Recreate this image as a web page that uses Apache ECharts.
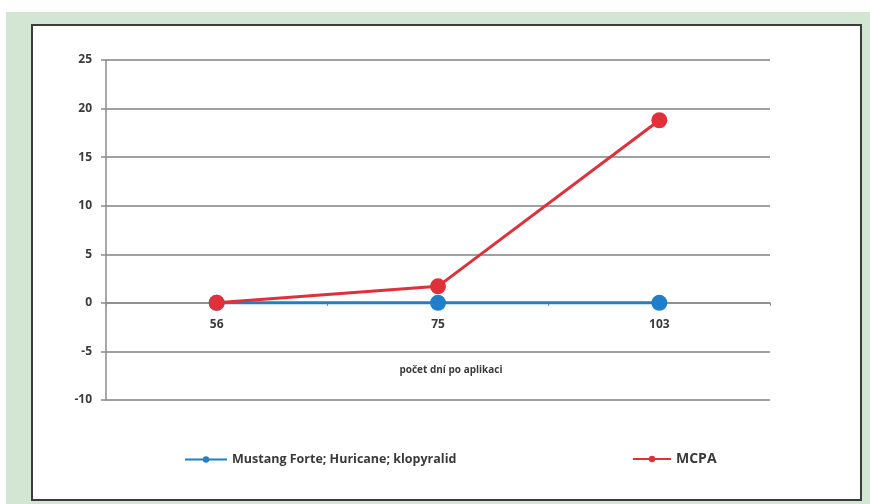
<!DOCTYPE html>
<html>
<head>
<meta charset="utf-8">
<script src="https://cdn.jsdelivr.net/npm/echarts@6/dist/echarts.min.js"></script>
<style>
  html, body { margin: 0; padding: 0; background: #ffffff; }
  #chart { width: 870px; height: 504px; }
</style>
</head>
<body>
<div id="chart"></div>
<script>
// Days after application
const categories = ['56', '75', '103'];
// Series values
const mustangValues = [0, 0, 0];
const mcpaValues = [0, 1.7, 18.8];
const seriesNames = ['Mustang Forte; Huricane; klopyralid', 'MCPA'];
const xAxisTitle = 'počet dní po aplikaci';

const chart = echarts.init(document.getElementById('chart'), null, { renderer: 'canvas' });

const labelFont = { fontFamily: 'Open Sans', fontWeight: 'bold', fontSize: 12, color: '#3a3a3a' };

// The category axis sits on the zero line: shift it up from the bottom of the grid
const gridTop = 60, gridBottom = 104, chartHeight = 504;
const yMin = -10, yMax = 25;
const plotHeight = chartHeight - gridTop - gridBottom;
const zeroOffset = -plotHeight * (0 - yMin) / (yMax - yMin);

chart.setOption({
  animation: false,
  backgroundColor: '#ffffff',
  graphic: [
    { type: 'rect', z: -10, shape: { x: 6, y: 12, width: 864, height: 492 }, style: { fill: '#d2e6d3' } },
    { type: 'rect', z: -9, shape: { x: 32, y: 25, width: 829, height: 475 },
      style: { fill: '#ffffff', stroke: '#3c3c3c', lineWidth: 2 } }
  ],
  grid: { left: 106, right: 100, top: gridTop, bottom: gridBottom, containLabel: false },
  legend: [
    {
      data: [seriesNames[0]], left: 179, top: 448,
      itemWidth: 42, itemHeight: 8,
      textStyle: Object.assign({}, labelFont, { fontSize: 12.5 })
    },
    {
      data: [seriesNames[1]], left: 627, top: 447,
      itemWidth: 38, itemHeight: 8,
      textStyle: Object.assign({}, labelFont, { fontSize: 14 })
    }
  ],
  xAxis: {
    type: 'category',
    data: categories,
    boundaryGap: true,
    position: 'bottom',
    offset: zeroOffset,
    axisLine: { onZero: false, lineStyle: { color: '#8a8a8a', width: 1.5 } },
    axisTick: { show: true, length: 3, lineStyle: { color: '#8a8a8a' } },
    axisLabel: Object.assign({}, labelFont, { margin: 16 }),
    name: xAxisTitle,
    nameLocation: 'middle',
    nameGap: 62,
    nameTextStyle: Object.assign({}, labelFont, { fontSize: 10, padding: [0, 0, 0, 26] })
  },
  yAxis: {
    type: 'value',
    min: yMin, max: yMax, interval: 5,
    axisLine: { show: true, lineStyle: { color: '#8a8a8a', width: 1.5 } },
    axisTick: { show: true, length: 5, lineStyle: { color: '#8a8a8a', width: 1.5 } },
    axisLabel: Object.assign({}, labelFont, { margin: 14 }),
    splitLine: { show: true, lineStyle: { color: '#a0a0a0', width: 1.8 } }
  },
  series: [
    {
      name: seriesNames[0], type: 'line', data: mustangValues,
      symbol: 'circle', symbolSize: 16,
      itemStyle: { color: '#1f7fcb' },
      lineStyle: { color: '#1f7fcb', width: 3 },
      z: 3
    },
    {
      name: seriesNames[1], type: 'line', data: mcpaValues,
      symbol: 'circle', symbolSize: 16,
      itemStyle: { color: '#e0313a' },
      lineStyle: { color: '#e0313a', width: 3 },
      z: 4
    }
  ]
});
</script>
</body>
</html>
